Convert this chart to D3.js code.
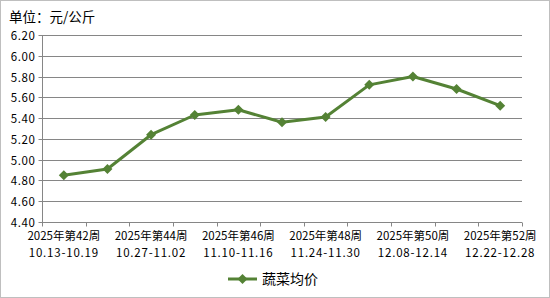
<!DOCTYPE html>
<html><head><meta charset="utf-8">
<script src="https://cdn.jsdelivr.net/npm/d3@7"></script>
<style>body{margin:0;background:#fff}svg{display:block}</style>
</head><body>
<script>
const weeks = ["2025年第42周","2025年第43周","2025年第44周","2025年第45周","2025年第46周","2025年第47周","2025年第48周","2025年第49周","2025年第50周","2025年第51周","2025年第52周"];
const dates = ["10.13-10.19","10.20-10.26","10.27-11.02","11.03-11.09","11.10-11.16","11.17-11.23","11.24-11.30","12.01-12.07","12.08-12.14","12.15-12.21","12.22-12.28"];
const values = [4.85, 4.91, 5.24, 5.43, 5.48, 5.36, 5.41, 5.72, 5.80, 5.68, 5.52];
const yTicks = [4.40, 4.60, 4.80, 5.00, 5.20, 5.40, 5.60, 5.80, 6.00, 6.20];
const seriesName = "蔬菜均价";
const unitLabel = "单位：元/公斤";

(function(){
const W = 550, H = 298;
const mLeft = 42, mRight = 522, mTop = 35, mBottom = 222;
const color = "#548235";
const font = "'Noto Sans CJK SC', 'DejaVu Sans', sans-serif";

const svg = d3.select("body").append("svg").attr("width", W).attr("height", H);
svg.append("rect").attr("x",0.5).attr("y",0.5).attr("width",W-1).attr("height",H-1)
  .attr("fill","#fff").attr("stroke","#bfbfbf");

const x = d3.scaleBand().domain(weeks).range([mLeft, mRight]).padding(0);
const y = d3.scaleLinear().domain([4.4, 6.2]).range([mBottom, mTop]);

svg.append("text").attr("x",9).attr("y",22).attr("font-family",font).attr("font-size",13.5)
  .attr("fill","#000").text(unitLabel);

// gridlines
svg.append("g").selectAll("line").data(yTicks).join("line")
  .attr("x1",mLeft).attr("x2",mRight)
  .attr("y1",d=>Math.round(y(d))+0.5).attr("y2",d=>Math.round(y(d))+0.5)
  .attr("stroke","#868686").attr("stroke-width",1);

// y axis
const yAxis = d3.axisLeft(y).tickValues(yTicks).tickFormat(d3.format(".2f")).tickSize(4).tickPadding(3);
const gy = svg.append("g").attr("transform",`translate(${mLeft+0.5},0.5)`).call(yAxis);
gy.select(".domain").attr("stroke","#868686").attr("d",`M0,${y(6.2)}V${y(4.4)}`);
gy.selectAll(".tick line").attr("stroke","#868686");
gy.selectAll(".tick text").attr("font-family",font).attr("font-size",11.5).attr("letter-spacing",0.6)
  .attr("fill","#000").attr("dy","0.35em");
gy.selectAll(".tick").attr("transform",d=>`translate(0,${Math.round(y(d))})`);

// x axis
const gx = svg.append("g").attr("transform",`translate(0,${mBottom+0.5})`);
gx.append("line").attr("x1",mLeft).attr("x2",mRight).attr("stroke","#868686");
const bounds = weeks.map(w=>x(w)).concat([mRight]);
gx.selectAll("line.tk").data(bounds).join("line").attr("class","tk")
  .attr("x1",d=>Math.round(d)+0.5).attr("x2",d=>Math.round(d)+0.5).attr("y1",0).attr("y2",4)
  .attr("stroke","#868686");
const labIdx = weeks.map((w,i)=>i).filter(i=>i%2===0);
const lab = gx.selectAll("g.lab").data(labIdx).join("g").attr("class","lab")
  .attr("transform",i=>`translate(${x(weeks[i])+x.bandwidth()/2},0)`);
lab.append("text").attr("y",17).attr("text-anchor","middle").attr("font-family",font)
  .attr("font-size",11.5).attr("fill","#000").text(i=>weeks[i]);
lab.append("text").attr("y",34).attr("text-anchor","middle").attr("font-family",font)
  .attr("font-size",11.5).attr("letter-spacing",0.8).attr("fill","#000").text(i=>dates[i]);

// line
const cx = (d,i)=>x(weeks[i])+x.bandwidth()/2;
svg.append("path").datum(values)
  .attr("d", d3.line().x(cx).y(d=>y(d)))
  .attr("fill","none").attr("stroke",color).attr("stroke-width",3).attr("stroke-linejoin","round");
const diamond = d3.symbol().type(d3.symbolSquare).size(50);
svg.append("g").selectAll("path").data(values).join("path")
  .attr("d",diamond).attr("transform",(d,i)=>`translate(${cx(d,i)},${y(d)}) rotate(45)`)
  .attr("fill",color);

// legend
const lg = svg.append("g").attr("transform","translate(0,279)");
lg.append("line").attr("x1",228).attr("x2",257).attr("y1",0).attr("y2",0).attr("stroke",color).attr("stroke-width",3);
lg.append("path").attr("d",diamond).attr("transform","translate(242.5,0) rotate(45)").attr("fill",color);
lg.append("text").attr("x",262).attr("y",0).attr("dy","0.36em").attr("font-family",font)
  .attr("font-size",14).attr("fill","#000").text(seriesName);
})();
</script>
</body></html>
